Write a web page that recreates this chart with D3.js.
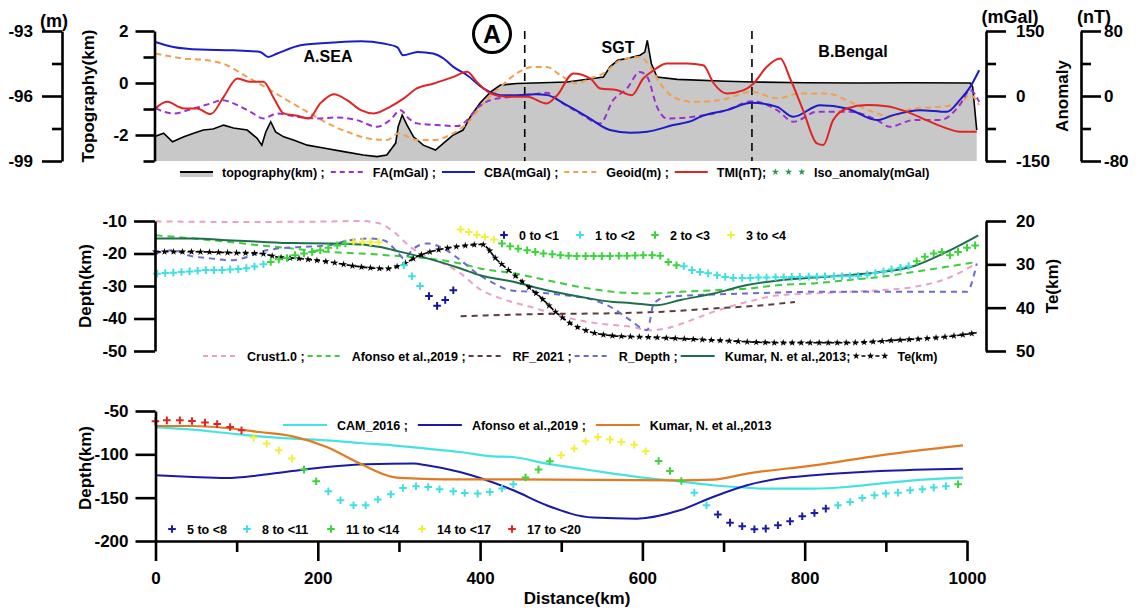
<!DOCTYPE html>
<html>
<head>
<meta charset="utf-8">
<script src="https://cdn.jsdelivr.net/npm/d3@7"></script>
<style>
body { margin: 0; background: #fff; }
text { font-family: 'Liberation Sans', Arial, sans-serif; font-weight: bold; fill: #000; }
</style>
</head>
<body>
<script>
"use strict";

// ---------- top panel: profile values [distance km, value] ----------
const topography = [[0,-2.05],[10,-1.93],[21,-2.26],[35,-2.07],[47,-1.93],[59,-1.81],[71,-1.77],[84,-1.62],[96,-1.73],[113,-1.81],[125,-2.12],[131,-2.39],[136,-1.88],[142,-1.49],[148,-1.88],[158,-2.07],[170,-2.19],[187,-2.39],[207,-2.50],[232,-2.64],[256,-2.77],[273,-2.83],[285,-2.77],[296,-2.31],[299,-1.68],[304,-1.23],[310,-1.62],[318,-2.07],[330,-2.39],[345,-2.58],[355,-2.31],[367,-2.00],[379,-1.81],[388,-1.30],[400,-0.77],[413,-0.34],[425,-0.08],[445,-0.02],[487,0.02],[507,0.04],[539,0.17],[552,0.23],[560,0.62],[570,0.88],[581,0.94],[597,1.07],[603,1.19],[606,1.64],[611,0.75],[618,0.23],[643,0.14],[704,0.07],[737,0.04],[800,0.01],[868,0.00],[930,0.01],[1004,0.00],[1007,-0.15],[1012,-1.81]];
const faMgal = [[0,-28.7],[22,-40.2],[47,-28.7],[68,-17.2],[82,-9.6],[101,-21.1],[117,-36.5],[133,-51.7],[150,-40.2],[174,-48.0],[199,-51.7],[224,-49.4],[248,-55.6],[273,-71.0],[289,-55.6],[302,-32.6],[312,-51.7],[322,-63.2],[347,-67.1],[372,-69.4],[384,-55.6],[396,-28.7],[413,-9.6],[437,-2.0],[466,4.3],[482,7.3],[499,-13.5],[523,-40.2],[548,-63.2],[564,-9.6],[581,17.4],[597,55.6],[606,44.1],[618,-25.0],[630,-51.7],[663,-48.0],[704,-32.6],[735,-11.9],[766,-32.6],[786,-59.5],[815,-36.5],[856,-36.5],[889,-55.6],[905,-71.0],[934,-55.6],[967,-55.6],[991,-21.1],[1004,13.5],[1015,-13.5]];
const cbaMgal = [[0,124.7],[22,113.2],[55,107.2],[96,105.6],[129,101.7],[139,90.1],[150,98.0],[179,117.1],[219,123.3],[253,126.3],[281,121.0],[298,112.5],[305,94.1],[323,101.7],[342,98.0],[355,86.5],[367,67.1],[384,48.0],[404,17.4],[425,2.0],[446,2.0],[468,4.3],[483,2.0],[503,-17.2],[532,-48.0],[560,-78.6],[585,-84.8],[606,-82.5],[638,-67.1],[663,-55.6],[671,-48.0],[704,-32.6],[735,-15.8],[766,-25.0],[786,-48.0],[819,-21.1],[852,-28.7],[889,-55.6],[909,-44.1],[942,-32.6],[975,-36.5],[991,-9.6],[1004,21.1],[1015,59.5]];
const geoidM = [[0,-94.04],[35,-94.27],[64,-94.35],[88,-94.58],[113,-95.12],[138,-95.65],[162,-96.19],[187,-96.73],[212,-97.26],[236,-97.65],[261,-97.95],[285,-98.03],[300,-97.72],[306,-97.80],[322,-98.03],[343,-98.03],[363,-97.80],[384,-97.26],[404,-96.34],[425,-95.58],[445,-94.96],[466,-94.66],[482,-94.66],[499,-95.04],[519,-95.42],[536,-95.19],[552,-94.96],[573,-94.35],[597,-94.20],[610,-94.66],[622,-95.42],[638,-96.04],[663,-96.27],[696,-96.19],[735,-95.81],[766,-96.11],[794,-95.88],[827,-95.88],[860,-96.34],[889,-96.80],[905,-96.96],[934,-96.57],[967,-96.50],[991,-96.34],[1004,-95.96],[1015,-96.42]];
const tmiNT = [[0,-15.3],[14,-7.2],[35,-15.3],[51,-15.3],[68,-22.3],[84,-1.0],[101,21.5],[117,17.4],[133,17.4],[146,-3.0],[158,-21.4],[175,-24.4],[189,-27.6],[203,-9.1],[220,2.3],[236,-5.1],[253,-17.4],[269,-21.4],[289,-13.3],[306,-3.0],[322,9.3],[343,15.4],[367,23.5],[384,29.7],[396,17.4],[413,3.1],[433,-1.0],[458,-1.0],[482,-9.1],[495,1.0],[515,27.7],[536,21.5],[548,9.3],[569,7.2],[587,1.0],[601,21.5],[614,31.7],[630,40.0],[655,40.0],[675,37.9],[688,15.4],[704,3.1],[725,7.2],[737,15.4],[753,35.8],[770,46.1],[782,21.5],[798,-17.4],[815,-58.3],[823,-60.3],[835,-29.7],[852,-15.3],[877,-11.2],[901,-12.5],[926,-19.5],[950,-29.7],[975,-39.8],[991,-44.0],[1012,-44.0]];
const boundaries = [455, 735];

// ---------- middle panel: Moho depth (km) and Te (km) ----------
const crust1 = [[0,-10.1],[100,-10.3],[200,-10.2],[253,-10.0],[277,-10.8],[294,-13.4],[314,-18.0],[335,-21.1],[355,-23.1],[376,-26.1],[398,-30.7],[425,-33.8],[462,-36.4],[503,-39.5],[544,-41.5],[585,-42.5],[610,-43.6],[630,-43.0],[655,-41.0],[688,-37.9],[729,-34.9],[770,-32.8],[811,-32.3],[852,-31.8],[893,-31.3],[934,-30.3],[975,-27.7],[1012,-23.0]];
const afonsoMoho = [[0,-14.4],[47,-15.4],[88,-16.4],[129,-17.5],[170,-18.5],[212,-19.5],[253,-20.0],[294,-20.7],[335,-21.5],[376,-23.1],[400,-24.6],[441,-26.1],[482,-28.2],[523,-30.3],[564,-31.8],[606,-32.3],[647,-31.8],[688,-31.3],[729,-30.8],[770,-29.7],[811,-29.2],[852,-28.2],[893,-27.2],[934,-25.7],[975,-24.1],[1012,-22.6]];
const rf2021 = [[376,-39.3],[482,-38.6],[564,-38.4],[626,-37.9],[688,-36.9],[749,-35.9],[788,-34.9]];
const rDepth = [[0,-20.0],[23,-19.0],[39,-20.5],[68,-21.5],[92,-22.1],[113,-21.1],[129,-19.5],[150,-18.5],[179,-18.0],[212,-17.5],[240,-15.9],[265,-15.4],[281,-15.9],[298,-19.5],[306,-21.5],[318,-18.5],[335,-16.9],[355,-18.5],[376,-22.1],[396,-26.1],[417,-29.2],[437,-31.3],[462,-31.8],[503,-32.8],[540,-34.3],[564,-36.9],[585,-40.5],[606,-43.6],[614,-35.4],[630,-33.3],[667,-32.8],[729,-32.3],[811,-31.8],[893,-31.8],[1000,-31.8],[1008,-27.2],[1012,-23.1]];
const kumarMoho = [[0,-15.4],[47,-15.4],[88,-15.9],[129,-16.4],[170,-16.8],[212,-16.9],[253,-17.2],[277,-18.0],[302,-19.5],[335,-21.5],[376,-24.6],[400,-26.7],[441,-28.7],[482,-31.3],[523,-33.3],[564,-34.9],[585,-35.2],[618,-35.9],[647,-34.3],[688,-32.3],[729,-29.7],[770,-28.2],[811,-27.4],[852,-26.7],[893,-25.7],[934,-23.9],[975,-19.5],[1014,-14.4]];
const teKm = [[0,27.1],[47,27.1],[88,27.3],[129,27.5],[150,28.3],[179,28.7],[212,29.4],[253,30.6],[285,31.0],[302,30.2],[326,27.9],[355,26.4],[376,25.8],[402,25.4],[421,29.0],[450,33.7],[474,37.5],[495,41.3],[511,43.6],[536,45.6],[564,46.5],[606,46.8],[688,47.5],[770,48.1],[852,48.1],[913,47.5],[975,46.7],[1012,45.8]];
const midBins = ["0 to <1", "1 to <2", "2 to <3", "3 to <4"];
const mid0to1 = [[337,-33.1],[347,-36.1],[357,-34.3],[367,-31.3]];
const mid1to2 = [[2,-26.2],[12,-26.0],[22,-25.9],[32,-25.7],[42,-25.5],[52,-25.3],[62,-25.1],[72,-25.1],[82,-25.1],[92,-24.9],[102,-24.8],[112,-24.5],[122,-24.0],[133,-23.3],[306,-23.6],[316,-27.0],[326,-30.0],[651,-23.9],[661,-25.1],[671,-25.7],[681,-26.1],[692,-26.7],[702,-27.2],[712,-27.5],[723,-27.5],[733,-27.5],[743,-27.4],[753,-27.4],[764,-27.3],[774,-27.3],[784,-27.2],[794,-27.2],[805,-27.1],[815,-27.1],[825,-27.0],[836,-27.0],[846,-27.0],[856,-27.0],[866,-26.9],[877,-26.5],[887,-26.0],[897,-25.5],[907,-24.9],[918,-24.4],[928,-23.9]];
const mid2to3 = [[142,-22.6],[152,-21.8],[162,-21.4],[172,-20.5],[183,-20.0],[193,-19.5],[203,-19.0],[213,-18.2],[224,-17.5],[234,-16.9],[427,-16.9],[437,-17.8],[447,-18.5],[458,-19.0],[468,-19.5],[478,-20.0],[489,-20.2],[499,-20.5],[509,-20.7],[519,-20.8],[530,-20.8],[540,-20.8],[550,-20.8],[560,-20.8],[571,-20.7],[581,-20.7],[591,-20.6],[601,-20.5],[612,-20.5],[622,-20.7],[632,-22.6],[642,-23.6],[938,-22.4],[948,-21.0],[959,-20.0],[969,-19.5],[979,-20.5],[989,-19.5],[1000,-18.2],[1010,-17.5]];
const mid3to4 = [[244,-16.5],[255,-16.5],[265,-16.5],[275,-16.5],[376,-12.6],[386,-13.4],[396,-14.2],[406,-14.9],[417,-15.7]];

// ---------- bottom panel: LAB depth (km) ----------
const cam2016 = [[0,-68.5],[46,-71.5],[87,-75.4],[128,-79.2],[169,-81.8],[211,-83.8],[252,-86.9],[293,-89.6],[334,-93.4],[375,-97.3],[416,-102.3],[440,-103.1],[482,-110.7],[523,-116.5],[564,-122.2],[605,-127.3],[646,-131.1],[687,-135.7],[728,-138.4],[748,-139.5],[810,-139.5],[851,-137.7],[892,-133.8],[933,-130.0],[995,-126.8]];
const afonsoLab = [[0,-124.2],[46,-126.2],[87,-127.3],[128,-124.2],[169,-119.2],[211,-114.6],[260,-111.5],[318,-110.7],[334,-112.7],[375,-120.4],[400,-127.3],[441,-141.5],[482,-158.8],[539,-173.0],[593,-174.2],[646,-164.6],[687,-149.2],[729,-135.7],[769,-128.0],[811,-124.2],[893,-119.2],[995,-116.5]];
const kumarLab = [[0,-67.3],[46,-67.3],[87,-69.6],[128,-74.2],[169,-79.2],[211,-91.5],[252,-110.7],[293,-126.2],[322,-128.0],[355,-128.8],[437,-128.8],[646,-130.0],[687,-129.2],[729,-122.2],[811,-112.7],[893,-101.1],[995,-89.6]];
const lowBins = ["5 to <8", "8 to <11", "11 to <14", "14 to <17", "17 to <20"];
const low5to8 = [[693,-169.5],[708,-178.8],[723,-183.0],[738,-186.5],[752,-185.7],[767,-181.9],[782,-177.3],[797,-171.5],[812,-167.7],[826,-162.6]];
const low8to11 = [[213,-142.7],[228,-153.0],[244,-158.8],[259,-158.8],[274,-152.2],[290,-146.1],[305,-138.8],[321,-136.9],[336,-137.7],[350,-140.3],[367,-142.7],[381,-144.6],[397,-145.3],[412,-143.5],[427,-139.5],[441,-134.6],[664,-144.2],[679,-158.8],[841,-158.8],[856,-155.0],[871,-150.4],[886,-147.3],[900,-145.3],[915,-144.2],[930,-141.5],[945,-140.3],[959,-138.4],[974,-136.9]];
const low11to14 = [[183,-117.6],[198,-131.1],[456,-126.8],[472,-117.6],[486,-108.0],[620,-107.7],[634,-119.2],[648,-130.8],[989,-134.6]];
const low14to17 = [[121,-80.7],[137,-87.6],[152,-95.3],[168,-104.9],[500,-101.1],[516,-93.4],[530,-85.0],[545,-80.0],[560,-83.0],[574,-85.8],[590,-88.8],[604,-96.5]];
const low17to20 = [[0,-61.9],[14,-60.8],[30,-60.8],[45,-61.5],[61,-63.4],[76,-65.0],[92,-68.5],[106,-72.3]];

const C = {
    fa: "#9b30d0", cba: "#1c1cc8", geoid: "#f0a050", tmi: "#e02424", iso: "#2a9a4a",
    crust: "#e8a2c8", afonso: "#3ccc3c", rf: "#5c3c3c", rdepth: "#6c6cd0", kumar: "#1e6e4e",
    b0: "#1414a0", cyan: "#40e0e0", green: "#3cd43c", yellow: "#f2f03c", red: "#e02424",
    cam: "#46e2e2", afL: "#1a1aa6", kuL: "#e07b22"
};

const svg = d3.select("body").append("svg").attr("width", 1142).attr("height", 612);

const x = d3.scaleLinear().domain([0, 1000]).range([155.5, 967]);
const yTopo = d3.scaleLinear().domain([-3, 2]).range([161, 31]);
const yGeoid = d3.scaleLinear().domain([-99, -93]).range([161, 31]);
const yMgal = d3.scaleLinear().domain([-150, 150]).range([161, 31]);
const yNT = d3.scaleLinear().domain([-80, 80]).range([161, 31]);
const yDepM = d3.scaleLinear().domain([-50, -10]).range([351, 221]);
const yTe = d3.scaleLinear().domain([20, 50]).range([221, 351]);
const yDepB = d3.scaleLinear().domain([-200, -50]).range([541, 411]);

function drawLine(data, ys, color, width, dash, curve) {
    return svg.append("path").datum(data)
        .attr("d", d3.line().x(d => x(d[0])).y(d => ys(d[1])).curve(curve || d3.curveMonotoneX))
        .attr("fill", "none").attr("stroke", color).attr("stroke-width", width)
        .attr("stroke-dasharray", dash || null);
}

const plusPath = "M-3.8,0H3.8M0,-3.8V3.8";
function drawPlus(data, ys, color) {
    svg.append("g").selectAll("path").data(data).enter().append("path")
        .attr("d", plusPath)
        .attr("transform", d => `translate(${x(d[0])},${ys(d[1])})`)
        .attr("stroke", color).attr("stroke-width", 2).attr("fill", "none");
}

const star = d3.symbol().type(d3.symbolStar).size(16);

function drawAxis(orient, scale, tx, ty, major, minor, majLen, minLen, pad) {
    const mk = orient === "left" ? d3.axisLeft : orient === "right" ? d3.axisRight : d3.axisBottom;
    const g = svg.append("g").attr("transform", `translate(${tx},${ty})`);
    g.call(mk(scale).tickValues(major).tickSize(majLen).tickSizeOuter(0).tickPadding(pad).tickFormat(d => String(d)));
    if (minor.length) {
        g.append("g").call(mk(scale).tickValues(minor).tickSize(minLen).tickSizeOuter(0).tickFormat(""))
            .call(s => s.select(".domain").remove());
    }
    g.selectAll("path, line").attr("stroke", "#000").attr("stroke-width", 2.6);
    g.selectAll("text").attr("font-size", 17);
    return g;
}

function title(txt, tx, ty, rot, size) {
    svg.append("text").attr("transform", `translate(${tx},${ty}) rotate(${rot || 0})`)
        .attr("text-anchor", "middle").attr("font-size", size || 17).text(txt);
}

// ================= TOP PANEL =================
svg.append("path").datum(topography)
    .attr("d", d3.area().x(d => x(d[0])).y0(yTopo(-3)).y1(d => yTopo(d[1])))
    .attr("fill", "#c8c8c8");
drawLine(topography, yTopo, "#000", 1.6, null, d3.curveLinear);

svg.append("g").selectAll("line").data(boundaries).enter().append("line")
    .attr("x1", d => x(d)).attr("x2", d => x(d))
    .attr("y1", 31).attr("y2", 161)
    .attr("stroke", "#000").attr("stroke-width", 1.6).attr("stroke-dasharray", "8,6");

drawLine(geoidM, yGeoid, C.geoid, 2, "6,4");
drawLine(faMgal, yMgal, C.fa, 2, "6,4");
drawLine(cbaMgal, yMgal, C.cba, 2);
drawLine(tmiNT, yNT, C.tmi, 2);

drawAxis("left", yGeoid, 62, 0, [-93, -96, -99], [-94.5, -97.5], 20, 10, 9);
drawAxis("left", yTopo, 154.5, 0, [2, 0, -2], [1, -1, -3], 19, 11, 7);
drawAxis("right", yMgal, 986, 0, [150, 0, -150], [75, -75], 20, 10, 10);
drawAxis("right", yNT, 1081, 0, [80, 0, -80], [40, -40], 20, 10, 3);

title("(m)", 54, 27, 0, 18);
title("(mGal)", 1010, 23, 0, 18);
title("(nT)", 1094, 23, 0, 18);
title("Topography(km)", 94, 96, -90);
title("Anomaly", 1068, 96, -90);

title("A.SEA", 328, 62, 0, 16);
title("SGT", 618, 53, 0, 16);
title("B.Bengal", 853, 57, 0, 16);

svg.append("circle").attr("cx", 492).attr("cy", 34).attr("r", 18.5)
    .attr("fill", "none").attr("stroke", "#000").attr("stroke-width", 3);
svg.append("text").attr("x", 492).attr("y", 43).attr("text-anchor", "middle")
    .attr("font-size", 25).text("A");

// ---------- sequential legend rows ----------
function legendRow(items, x0, y, sw, gapA, gapB) {
    let cx = x0;
    items.forEach(it => {
        const g = svg.append("g");
        if (it.kind === "topo") {
            g.append("rect").attr("x", cx).attr("y", y).attr("width", sw).attr("height", 5).attr("fill", "#c8c8c8");
            g.append("line").attr("x1", cx).attr("x2", cx + sw).attr("y1", y).attr("y2", y).attr("stroke", "#000").attr("stroke-width", 2);
        } else if (it.kind === "stars") {
            [0.1, 0.5, 0.9].forEach(f => g.append("path").attr("d", star).attr("fill", it.color)
                .attr("transform", `translate(${cx + sw * f},${y})`));
        } else if (it.kind === "te") {
            g.append("line").attr("x1", cx + 8).attr("x2", cx + sw - 8).attr("y1", y).attr("y2", y)
                .attr("stroke", "#000").attr("stroke-width", 1.5).attr("stroke-dasharray", "4,3");
            [0.08, 0.5, 0.92].forEach(f => g.append("path").attr("d", star).attr("fill", "#000")
                .attr("transform", `translate(${cx + sw * f},${y})`));
        } else {
            g.append("line").attr("x1", cx).attr("x2", cx + sw).attr("y1", y).attr("y2", y)
                .attr("stroke", it.color).attr("stroke-width", 2).attr("stroke-dasharray", it.dash || null);
        }
        cx += sw + gapA;
        const t = g.append("text").attr("x", cx).attr("y", y + 4.5).attr("font-size", 12.5).text(it.label);
        cx += t.node().getComputedTextLength() + gapB;
    });
}

function markerLegend(labels, colors, xs, y) {
    labels.forEach((lab, i) => {
        svg.append("path").attr("d", plusPath).attr("transform", `translate(${xs[i]},${y})`)
            .attr("stroke", colors[i]).attr("stroke-width", 2);
        svg.append("text").attr("x", xs[i] + 15).attr("y", y + 4.5).attr("font-size", 12.5).text(lab);
    });
}

legendRow([
    { kind: "topo", label: "topography(km) ;" },
    { kind: "line", color: C.fa, dash: "5,4", label: "FA(mGal) ;" },
    { kind: "line", color: C.cba, label: "CBA(mGal) ;" },
    { kind: "line", color: C.geoid, dash: "5,4", label: "Geoid(m) ;" },
    { kind: "line", color: C.tmi, label: "TMI(nT);" },
    { kind: "stars", color: C.iso, label: "Iso_anomaly(mGal)" }
], 180, 172, 33, 9, 6);

// ================= MIDDLE PANEL =================
drawLine(crust1, yDepM, C.crust, 2, "6,5");
drawLine(afonsoMoho, yDepM, C.afonso, 2, "7,5");
drawLine(rf2021, yDepM, C.rf, 2, "6,5");
drawLine(rDepth, yDepM, C.rdepth, 2, "6,5");
drawLine(kumarMoho, yDepM, C.kumar, 2);
const tePath = drawLine(teKm, yTe, "#000", 1.6, "5,3");
{
    const node = tePath.node();
    const len = node.getTotalLength();
    const pts = d3.range(0, len, 9).map(s => node.getPointAtLength(s));
    svg.append("g").selectAll("path").data(pts).enter().append("path")
        .attr("d", star).attr("fill", "#000")
        .attr("transform", p => `translate(${p.x},${p.y})`);
}
drawPlus(mid1to2, yDepM, C.cyan);
drawPlus(mid2to3, yDepM, C.green);
drawPlus(mid3to4, yDepM, C.yellow);
drawPlus(mid0to1, yDepM, C.b0);

drawAxis("left", yDepM, 155, 0, [-10, -20, -30, -40, -50], [], 21, 0, 7);
drawAxis("right", yTe, 986, 0, [20, 30, 40, 50], [], 20, 0, 10);
title("Depth(km)", 91, 286, -90);
title("Te(km)", 1058, 286, -90);

markerLegend(midBins, [C.b0, C.cyan, C.green, C.yellow], [504, 580, 655, 731], 235);
legendRow([
    { kind: "line", color: C.crust, dash: "5,4", label: "Crust1.0 ;" },
    { kind: "line", color: C.afonso, dash: "5,4", label: "Afonso et al.,2019 ;" },
    { kind: "line", color: C.rf, dash: "5,4", label: "RF_2021 ;" },
    { kind: "line", color: C.rdepth, dash: "5,4", label: "R_Depth ;" },
    { kind: "line", color: C.kumar, label: "Kumar, N. et al.,2013;" },
    { kind: "te", label: "Te(km)" }
], 203, 356, 34, 10, 3);

// ================= BOTTOM PANEL =================
drawLine(cam2016, yDepB, C.cam, 2.2);
drawLine(afonsoLab, yDepB, C.afL, 2);
drawLine(kumarLab, yDepB, C.kuL, 2.2);
drawPlus(low8to11, yDepB, C.cyan);
drawPlus(low11to14, yDepB, C.green);
drawPlus(low14to17, yDepB, C.yellow);
drawPlus(low17to20, yDepB, C.red);
drawPlus(low5to8, yDepB, C.afL);

drawAxis("left", yDepB, 155.5, 0, [-50, -100, -150, -200], [], 20, 0, 7);
drawAxis("bottom", x, 0, 541, [0, 200, 400, 600, 800, 1000], [100, 300, 500, 700, 900], 20, 11, 11);
title("Depth(km)", 91, 468, -90);
title("Distance(km)", 577, 604, 0);

legendRow([
    { kind: "line", color: C.cam, label: "CAM_2016 ;" },
    { kind: "line", color: C.afL, label: "Afonso et al.,2019 ;" },
    { kind: "line", color: C.kuL, label: "Kumar, N. et al.,2013" }
], 283, 425, 44, 10, 10);
markerLegend(lowBins, [C.afL, C.cyan, C.green, C.yellow, C.red], [172, 247, 331, 422, 512], 529);
</script>
</body>
</html>
